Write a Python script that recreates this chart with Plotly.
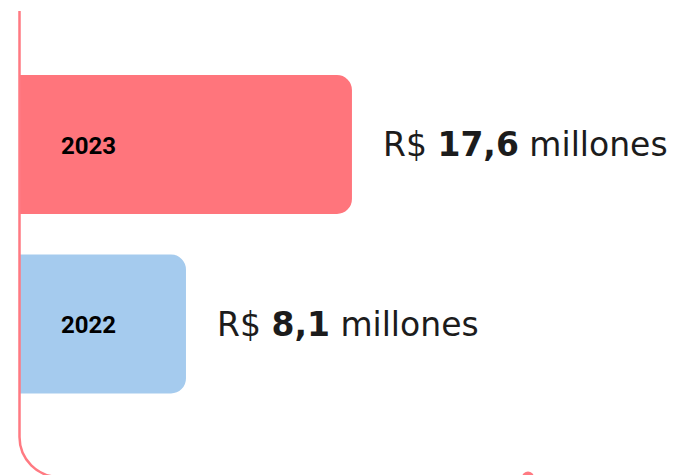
import plotly.graph_objects as go

# ---- data ----
years = ["2022", "2023"]
values = [8.1, 17.6]
value_labels = ["8,1", "17,6"]
bar_colors = ["#A5CBEE", "#FF757C"]

# ---- layout constants ----
W, H = 679, 475
AXIS_PX = 19.5
X_MIN = -1.4
X_MAX = 36.32
BAR_BASE = X_MIN - 3  # start bars behind the left edge so only the far end is rounded
LINE_COLOR = "#FF7A82"


def px(x):
    return x / W


def py(y):
    return 1 - y / H


fig = go.Figure()
fig.add_trace(go.Bar(
    y=years,
    x=[v - BAR_BASE for v in values],
    base=BAR_BASE,
    orientation="h",
    marker=dict(color=bar_colors, line=dict(width=0)),
    hoverinfo="skip",
    showlegend=False,
))

annotations = []
for i, (yr, v, lab) in enumerate(zip(years, values, value_labels)):
    annotations.append(dict(
        x=X_MIN, y=i, xref="x", yref="y", xanchor="left", yanchor="middle",
        xshift=39, yshift=-1, showarrow=False,
        text=f"<b>{yr}</b>",
        font=dict(family="Roboto", size=24, color="#000000"),
    ))
    annotations.append(dict(
        x=v, y=i, xref="x", yref="y", xanchor="left", yanchor="middle",
        xshift=29, yshift=0, showarrow=False,
        text=f"R$ <b>{lab}</b> millones",
        font=dict(family="DejaVu Sans", size=33, color="#1c1c1c"),
    ))

r = 40
k = 0.552 * r
x0, ytop, ybend = AXIS_PX, 11, 437
path = (f"M {px(x0)},{py(ytop)} L {px(x0)},{py(ybend)} "
        f"C {px(x0)},{py(ybend + k)} {px(x0 + r - k)},{py(ybend + r)} {px(x0 + r)},{py(ybend + r)} "
        f"L {px(720)},{py(ybend + r)}")

shapes = [
    dict(type="path", xref="paper", yref="paper", path=path,
         line=dict(color=LINE_COLOR, width=2.5), layer="above"),
    dict(type="circle", xref="paper", yref="paper",
         x0=px(522), x1=px(534), y0=py(471.5), y1=py(483.5),
         fillcolor=LINE_COLOR, line=dict(width=0), layer="above"),
]

fig.update_layout(
    width=W, height=H,
    margin=dict(l=0, r=0, t=0, b=0),
    paper_bgcolor="white", plot_bgcolor="white",
    barcornerradius=15,
    bargap=0.226,
    xaxis=dict(range=[X_MIN, X_MAX], domain=[20 / W, 1], visible=False, fixedrange=True),
    yaxis=dict(type="category", categoryorder="array", categoryarray=years,
               range=[-0.841, 1.805], visible=False, fixedrange=True),
    annotations=annotations,
    shapes=shapes,
)

fig.write_html("out.html", config={"displayModeBar": False},
               post_script="document.body.style.margin='0';document.body.style.overflow='hidden';")
